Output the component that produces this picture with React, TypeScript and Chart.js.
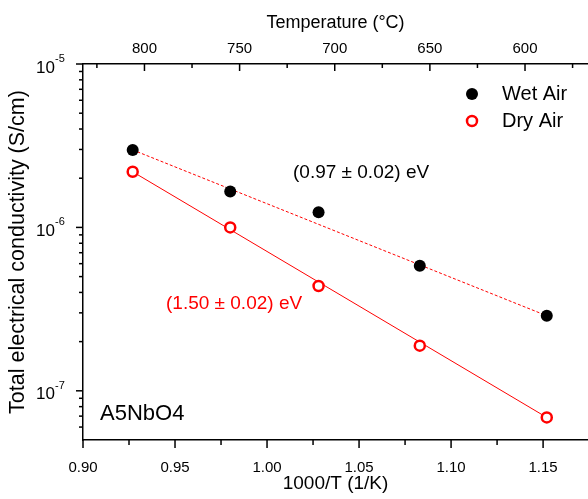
import React, { useEffect, useRef } from "react";
import { Chart, registerables } from "chart.js";
Chart.register(...registerables);

// ---- data ----
const invT = [0.927, 0.98, 1.028, 1.083, 1.152];
const wetAir = [2.98e-6, 1.66e-6, 1.24e-6, 5.83e-7, 2.88e-7];
const dryAir = [2.19e-6, 1.0e-6, 4.38e-7, 1.89e-7, 6.87e-8];
const fitX = [0.927, 1.152];
const wetFitY = [2.98e-6, 2.88e-7];
const dryFitY = [2.19e-6, 6.87e-8];

const xTicks = [0.9, 0.95, 1.0, 1.05, 1.1, 1.15];
const xMinorTicks = [0.925, 0.975, 1.025, 1.075, 1.125];
const topTicks = [800, 750, 700, 650, 600];
const topMinorTicks = [825, 775, 725, 675, 625, 575];
const yTicks = [1e-7, 1e-6, 1e-5];
const yExponents = ["-7", "-6", "-5"];
const yMinorTicks = [
  6e-8, 7e-8, 8e-8, 9e-8,
  2e-7, 3e-7, 4e-7, 5e-7, 6e-7, 7e-7, 8e-7, 9e-7,
  2e-6, 3e-6, 4e-6, 5e-6, 6e-6, 7e-6, 8e-6, 9e-6,
];

const seriesNames = ["Wet Air", "Dry Air"];
const wetLabel = "(0.97 \u00b1 0.02) eV";
const dryLabel = "(1.50 \u00b1 0.02) eV";
const sampleLabel = "A5NbO4";

const FONT = "'Liberation Sans', Arial, sans-serif";
const RED = "#ff0000";

const decorPlugin = {
  id: "decor",
  afterDraw(chart: any) {
    const ctx = chart.ctx;
    const { left, top, bottom } = chart.chartArea;
    const xs = chart.scales.x;
    const ys = chart.scales.y;
    const ts = chart.scales.xTop;
    ctx.save();
    ctx.strokeStyle = "#000";
    ctx.lineWidth = 1.5;
    const line = (x1: number, y1: number, x2: number, y2: number) => {
      ctx.beginPath();
      ctx.moveTo(x1, y1);
      ctx.lineTo(x2, y2);
      ctx.stroke();
    };
    xTicks.forEach((v) => {
      const p = xs.getPixelForValue(v);
      line(p, bottom, p, bottom + 8);
    });
    xMinorTicks.forEach((v) => {
      const p = xs.getPixelForValue(v);
      line(p, bottom, p, bottom + 5);
    });
    topTicks.forEach((v) => {
      const p = ts.getPixelForValue(v);
      line(p, top, p, top + 7);
    });
    topMinorTicks.forEach((v) => {
      const p = ts.getPixelForValue(v);
      line(p, top, p, top + 4);
    });
    yTicks.forEach((v) => {
      const p = ys.getPixelForValue(v);
      line(left - 7, p, left, p);
    });
    yMinorTicks.forEach((v) => {
      const p = ys.getPixelForValue(v);
      line(left - 4, p, left, p);
    });

    // y tick labels with superscripts
    ctx.fillStyle = "#000";
    yTicks.forEach((v, i) => {
      const p = ys.getPixelForValue(v);
      ctx.font = `17px ${FONT}`;
      ctx.textAlign = "right";
      ctx.textBaseline = "middle";
      ctx.fillText("10", left - 28, p + 4);
      ctx.font = `11px ${FONT}`;
      ctx.textAlign = "left";
      ctx.fillText(yExponents[i], left - 28, p - 5);
    });

    // legend
    const lx = 472;
    const ly = [94, 121];
    ctx.beginPath();
    ctx.arc(lx, ly[0], 6, 0, Math.PI * 2);
    ctx.fillStyle = "#000";
    ctx.fill();
    ctx.beginPath();
    ctx.arc(lx, ly[1], 5, 0, Math.PI * 2);
    ctx.strokeStyle = RED;
    ctx.lineWidth = 2.5;
    ctx.stroke();
    ctx.fillStyle = "#000";
    ctx.font = `20px ${FONT}`;
    ctx.textAlign = "left";
    ctx.textBaseline = "middle";
    ctx.fillText(seriesNames[0], 502, ly[0]);
    ctx.fillText(seriesNames[1], 502, ly[1]);

    // annotations
    ctx.font = `19px ${FONT}`;
    ctx.fillText(wetLabel, 293, 173);
    ctx.fillStyle = RED;
    ctx.fillText(dryLabel, 166, 304);
    ctx.fillStyle = "#000";
    ctx.font = `22px ${FONT}`;
    ctx.fillText(sampleLabel, 100, 414);
    ctx.restore();
  },
};

export default function App() {
  const ref = useRef<HTMLCanvasElement>(null);
  useEffect(() => {
    if (!ref.current) return;
    const pts = (ys: number[]) => ys.map((y, i) => ({ x: invT[i], y }));
    const fit = (ys: number[]) => ys.map((y, i) => ({ x: fitX[i], y }));
    const chart = new Chart(ref.current, {
      type: "scatter",
      data: {
        datasets: [
          {
            label: seriesNames[0],
            data: pts(wetAir),
            pointRadius: 6,
            pointBackgroundColor: "#000",
            pointBorderColor: "#000",
            pointBorderWidth: 0,
            showLine: false,
            order: 0,
          },
          {
            label: seriesNames[1],
            data: pts(dryAir),
            pointRadius: 5,
            pointBackgroundColor: "#fff",
            pointBorderColor: RED,
            pointBorderWidth: 2.5,
            showLine: false,
            order: 0,
          },
          {
            label: "wet fit",
            data: fit(wetFitY),
            showLine: true,
            pointRadius: 0,
            borderColor: RED,
            borderWidth: 1,
            borderDash: [3, 2],
            order: 1,
          },
          {
            label: "dry fit",
            data: fit(dryFitY),
            showLine: true,
            pointRadius: 0,
            borderColor: RED,
            borderWidth: 1,
            order: 1,
          },
        ],
      },
      options: {
        responsive: false,
        animation: false,
        events: [],
        layout: { padding: 0, autoPadding: false },
        plugins: {
          legend: { display: false },
          tooltip: { enabled: false },
        },
        scales: {
          x: {
            type: "linear",
            position: "bottom",
            min: 0.9,
            max: 1.1744,
            afterBuildTicks: (s: any) => {
              s.ticks = xTicks.map((v) => ({ value: v }));
            },
            afterFit: (s: any) => {
              s.height = 59;
              s.paddingRight = 0;
              s.paddingLeft = 0;
            },
            ticks: {
              callback: (v: any) => Number(v).toFixed(2),
              font: { family: FONT, size: 15 },
              color: "#000",
              padding: 11,
              maxRotation: 0,
              autoSkip: false,
            },
            grid: { display: false },
            border: { display: true, color: "#000", width: 1.5 },
            title: {
              display: true,
              text: "1000/T (1/K)",
              font: { family: FONT, size: 19 },
              color: "#000",
              padding: { top: 0, bottom: 4 },
            },
          },
          xTop: {
            type: "linear",
            position: "top",
            reverse: true,
            min: 566.9,
            max: 832.3,
            afterBuildTicks: (s: any) => {
              s.ticks = topTicks.map((v) => ({ value: v }));
            },
            afterFit: (s: any) => {
              s.height = 64;
              s.paddingRight = 0;
              s.paddingLeft = 0;
            },
            ticks: {
              font: { family: FONT, size: 15 },
              color: "#000",
              padding: -2,
              maxRotation: 0,
              autoSkip: false,
            },
            grid: { display: false },
            border: { display: true, color: "#000", width: 1.5 },
            title: {
              display: true,
              text: "Temperature (\u00b0C)",
              font: { family: FONT, size: 18 },
              color: "#000",
              padding: { top: 12, bottom: 0 },
            },
          },
          y: {
            type: "logarithmic",
            position: "left",
            min: 5e-8,
            max: 1e-5,
            afterBuildTicks: (s: any) => {
              s.ticks = yTicks.map((v) => ({ value: v }));
            },
            afterFit: (s: any) => {
              s.width = 83;
              s.paddingTop = 0;
              s.paddingBottom = 0;
            },
            ticks: { display: false },
            grid: { display: false },
            border: { display: true, color: "#000", width: 1.5 },
            title: {
              display: true,
              text: "Total electrical conductivity (S/cm)",
              font: { family: FONT, size: 21.5 },
              color: "#000",
              padding: { top: 5, bottom: 0 },
            },
          },
        },
      },
      plugins: [decorPlugin],
    });
    return () => chart.destroy();
  }, []);
  return (
    <div style={{ position: "fixed", left: 0, top: 0, width: 588, height: 499, background: "#fff" }}>
      <canvas ref={ref} width={588} height={499} />
    </div>
  );
}
